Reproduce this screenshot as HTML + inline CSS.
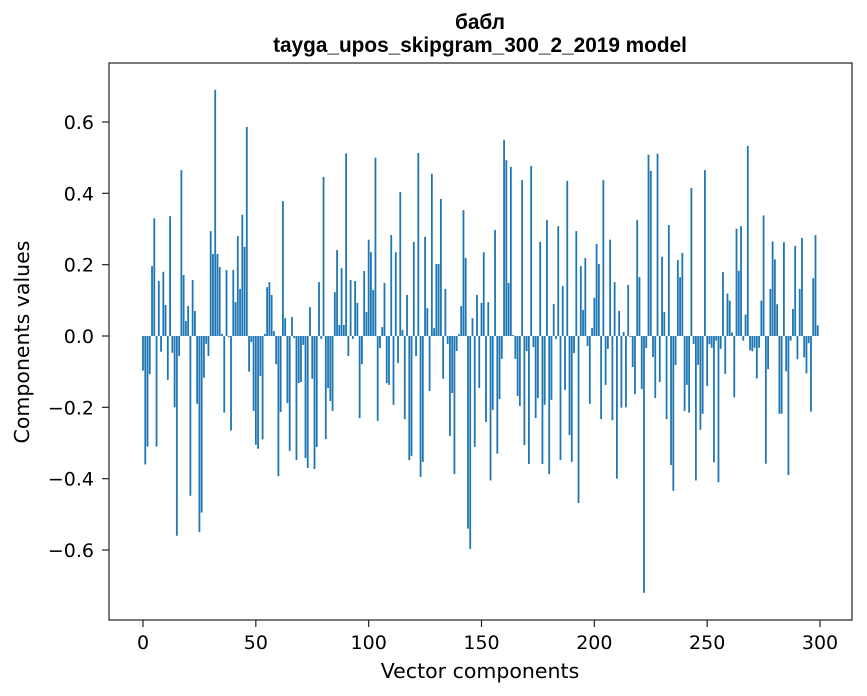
<!DOCTYPE html>
<html><head><meta charset="utf-8">
<style>
body{margin:0;background:#fff;}
svg{display:block;font-family:"DejaVu Sans","Liberation Sans",sans-serif;}
</style></head>
<body>
<svg id="chart" width="867" height="696" viewBox="0 0 867 696">
<rect width="867" height="696" fill="#fff"/>
<text x="480" y="29" text-anchor="middle" font-size="20.8" font-weight="bold" font-family="Liberation Sans, sans-serif">бабл</text>
<text x="480" y="52" text-anchor="middle" font-size="20.8" font-weight="bold" font-family="Liberation Sans, sans-serif">tayga_upos_skipgram_300_2_2019 model</text>
<g id="bars"></g>
<g id="axes"></g>
<rect x="109" y="63" width="743" height="557" fill="none" stroke="#222" stroke-width="1.2"/>
<text x="480" y="678" text-anchor="middle" font-size="20.5">Vector components</text>
<text x="0" y="0" transform="translate(29,342) rotate(-90)" text-anchor="middle" font-size="20.5">Components values</text>
</svg>
<script>
const values = [
-0.097,-0.36,-0.31,-0.107,0.196,0.33,-0.31,0.154,-0.044,0.18,
0.087,-0.123,0.336,-0.047,-0.2,-0.56,-0.056,0.465,0.171,0.042,
0.084,-0.448,0.157,0.07,-0.19,-0.55,-0.495,-0.117,-0.022,-0.056,
0.294,0.23,0.69,0.23,0.193,0.006,-0.215,0.185,-0.003,-0.265,
0.185,0.095,0.28,0.132,0.34,0.25,0.586,-0.1,-0.017,-0.21,
-0.305,-0.316,-0.112,-0.29,0.006,0.137,0.151,0.115,0.014,-0.079,
-0.393,-0.213,0.378,0.05,-0.188,-0.322,0.053,-0.006,-0.348,-0.132,
-0.129,-0.025,-0.342,-0.37,0.081,-0.12,-0.373,-0.311,0.151,-0.008,
0.446,-0.289,-0.146,-0.182,-0.21,0.123,0.241,0.031,0.19,0.031,
0.512,-0.056,0.157,-0.008,0.154,0.093,-0.23,-0.079,0.182,0.067,
0.27,0.235,0.129,0.5,-0.238,-0.034,0.025,0.149,-0.132,-0.137,
0.283,-0.193,0.235,-0.076,0.404,0.017,-0.233,0.115,-0.348,-0.336,
0.264,-0.056,0.513,-0.395,-0.353,0.278,0.078,-0.154,0.455,0.022,
0.202,0.202,0.384,-0.12,0.132,-0.022,-0.28,-0.16,-0.387,-0.042,
0.005,0.084,0.353,0.219,-0.54,-0.597,0.05,-0.311,0.115,-0.146,
0.093,0.235,-0.241,0.095,-0.405,-0.207,0.297,-0.33,-0.177,-0.064,
0.55,0.493,0.149,0.474,0.003,-0.064,-0.168,-0.196,0.437,-0.306,
-0.042,-0.359,0.477,-0.031,-0.23,-0.174,0.264,-0.359,-0.193,0.325,
-0.387,-0.179,0.09,-0.008,0.308,-0.348,0.14,-0.151,0.435,-0.278,
-0.353,-0.048,0.294,-0.468,0.196,0.073,0.219,-0.028,-0.19,0.022,
0.107,0.258,0.202,-0.233,0.437,-0.137,-0.036,0.27,-0.236,0.151,
-0.4,0.07,-0.201,0.011,-0.2,0.143,-0.003,-0.087,-0.163,0.325,
0.165,-0.149,-0.72,-0.034,0.508,0.463,-0.059,-0.174,0.511,-0.129,
0.222,0.067,-0.233,0.311,-0.362,-0.434,-0.081,0.213,0.165,0.233,
-0.21,-0.137,-0.215,0.415,-0.022,-0.405,-0.081,-0.263,-0.218,0.465,
-0.14,-0.023,-0.033,-0.354,-0.013,-0.41,-0.036,0.179,-0.106,0.119,
0.099,0.01,-0.172,0.301,0.183,0.308,-0.013,0.06,0.533,-0.04,
-0.043,-0.033,-0.119,-0.033,0.099,0.338,-0.358,-0.093,0.132,0.265,
0.215,0.089,-0.218,-0.218,0.263,-0.099,-0.39,-0.013,0.076,0.253,
-0.065,0.132,0.275,-0.06,-0.105,-0.02,-0.212,0.162,0.283,0.03
];
const xTicks = [0,50,100,150,200,250,300];
const yTicks = [-0.6,-0.4,-0.2,0.0,0.2,0.4,0.6];
const yTickLabels = ["\u22120.6","\u22120.4","\u22120.2","0.0","0.2","0.4","0.6"];

const NS="http://www.w3.org/2000/svg";
function xs(i){return 143 + i*2.2567;}
function ys(v){return 336 - v*356.7;}
const bars=document.getElementById('bars');
values.forEach((v,i)=>{
  const r=document.createElementNS(NS,'rect');
  const y0=ys(0), y1=ys(v);
  r.setAttribute('x', xs(i)-0.9);
  r.setAttribute('width', 1.8);
  r.setAttribute('y', Math.min(y0,y1));
  r.setAttribute('height', Math.abs(y1-y0));
  r.setAttribute('fill','#1f77b4');
  
  
  bars.appendChild(r);
});
const axes=document.getElementById('axes');
xTicks.forEach(t=>{
  const l=document.createElementNS(NS,'line');
  l.setAttribute('x1',xs(t));l.setAttribute('x2',xs(t));
  l.setAttribute('y1',620);l.setAttribute('y2',627);
  l.setAttribute('stroke','#222');l.setAttribute('stroke-width','1.2');
  
  
  axes.appendChild(l);
  const tx=document.createElementNS(NS,'text');
  tx.setAttribute('x',xs(t));tx.setAttribute('y',649);
  tx.setAttribute('text-anchor','middle');tx.setAttribute('font-size','19');
  tx.textContent=String(t);
  
  
  axes.appendChild(tx);
});
yTicks.forEach((t,k)=>{
  const l=document.createElementNS(NS,'line');
  l.setAttribute('x1',102);l.setAttribute('x2',109);
  l.setAttribute('y1',ys(t));l.setAttribute('y2',ys(t));
  l.setAttribute('stroke','#222');l.setAttribute('stroke-width','1.2');
  
  
  axes.appendChild(l);
  const tx=document.createElementNS(NS,'text');
  tx.setAttribute('x',94);tx.setAttribute('y',ys(t)+7);
  tx.setAttribute('text-anchor','end');tx.setAttribute('font-size','19');
  tx.textContent=yTickLabels[k];
  
  
  axes.appendChild(tx);
});
</script>
</body></html>
